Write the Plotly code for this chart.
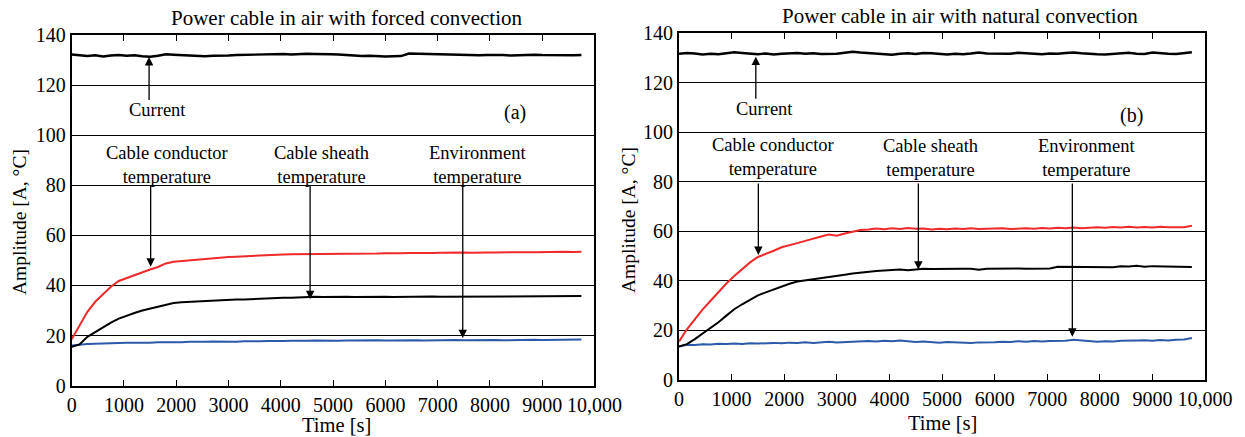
import plotly.graph_objects as go

# ---------------- data ----------------
time_s = list(range(0, 9751, 150))  # sampling instants (66)

# (a) forced convection
cur_a = [132.2, 132.0, 131.6, 131.9, 131.4, 131.8, 132.0, 131.7, 131.9, 131.5,
         131.3, 131.7, 132.3, 132.1, 131.9, 131.8, 131.6, 131.5, 131.7, 131.6,
         131.8, 132.0, 132.1, 131.9, 132.2, 132.1, 132.3, 132.4, 132.2, 132.4,
         132.5, 132.4, 132.5, 132.3, 132.2, 131.9, 131.8, 131.6, 131.7, 131.5,
         131.4, 131.5, 131.6, 132.6, 132.5, 132.4, 132.5, 132.3, 132.2, 132.1,
         132.2, 132.0, 131.9, 132.0, 132.1, 132.0, 131.8, 132.0, 131.9, 132.1,
         132.0, 131.9, 132.1, 132.0, 131.9, 132.0]
cond_a = [18.5, 24.0, 29.5, 33.5, 36.5, 39.5, 41.8, 43.0, 44.3, 45.5,
          46.4, 47.4, 48.8, 49.5, 49.8, 50.2, 50.4, 50.7, 50.9, 51.2,
          51.4, 51.5, 51.7, 51.9, 52.0, 52.1, 52.3, 52.4, 52.5, 52.5,
          52.6, 52.7, 52.7, 52.6, 52.7, 52.6, 52.7, 52.8, 52.7, 52.8,
          52.9, 52.8, 52.9, 53.0, 52.9, 53.1, 53.0, 53.1, 53.2, 53.1,
          53.2, 53.1, 53.3, 53.2, 53.2, 53.3, 53.2, 53.4, 53.3, 53.3,
          53.4, 53.3, 53.4, 53.5, 53.4, 53.5]
sheath_a = [15.5, 16.5, 19.5, 21.5, 23.3, 25.2, 26.8, 28.0, 29.0, 30.0,
            30.8, 31.5, 32.2, 33.0, 33.3, 33.5, 33.6, 33.8, 33.9, 34.1,
            34.2, 34.4, 34.4, 34.6, 34.7, 34.8, 35.0, 35.1, 35.1, 35.3,
            35.4, 35.5, 35.4, 35.5, 35.4, 35.5, 35.4, 35.5, 35.4, 35.5,
            35.5, 35.4, 35.5, 35.5, 35.4, 35.5, 35.6, 35.5, 35.5, 35.6,
            35.5, 35.7, 35.8, 35.7, 35.7, 35.8, 35.7, 35.8, 35.7, 35.8,
            35.8, 35.7, 35.8, 35.8, 35.7, 35.8]
env_a = [16.0, 16.4, 16.6, 16.7, 16.9, 16.8, 17.0, 17.1, 17.0, 17.2,
         17.1, 17.3, 17.2, 17.4, 17.3, 17.5, 17.4, 17.5, 17.6, 17.5,
         17.6, 17.5, 17.7, 17.6, 17.7, 17.8, 17.7, 17.8, 17.9, 17.8,
         17.9, 18.0, 17.9, 18.0, 17.9, 18.0, 18.1, 18.0, 18.0, 18.1,
         18.0, 18.1, 18.0, 18.1, 18.1, 18.0, 18.1, 18.2, 18.1, 18.2,
         18.1, 18.2, 18.1, 18.2, 18.2, 18.1, 18.2, 18.3, 18.2, 18.3,
         18.2, 18.3, 18.2, 18.3, 18.3, 18.4]

# (b) natural convection
cur_b = [131.8, 132.1, 131.9, 131.5, 131.8, 131.6, 132.0, 132.4, 132.1, 131.7,
         131.6, 131.9, 131.5, 131.8, 132.0, 132.1, 131.8, 132.0, 131.7, 131.6,
         131.8, 132.2, 132.6, 132.3, 132.1, 131.8, 131.6, 131.4, 131.8, 132.0,
         131.7, 132.1, 132.0, 131.7, 131.5, 131.8, 131.6, 131.9, 132.3, 131.9,
         131.8, 131.6, 131.8, 132.2, 132.0, 131.8, 131.6, 131.9, 131.8, 132.1,
         132.3, 132.0, 131.7, 131.6, 131.5, 131.8, 132.0, 132.2, 131.8, 131.7,
         132.3, 131.9, 131.8, 131.7, 132.1, 132.4]
cond_b = [15.5, 20.5, 24.5, 28.5, 32.0, 35.5, 39.0, 42.0, 44.8, 47.5,
          49.7, 50.8, 52.2, 53.6, 54.6, 55.3, 56.2, 57.2, 58.0, 58.8,
          58.3, 59.2, 59.8, 60.6, 60.8, 61.2, 60.9, 61.3, 61.0, 61.4,
          61.1, 61.2, 60.8, 61.1, 60.9, 61.2, 61.0, 61.3, 61.0, 61.1,
          61.0, 61.3, 61.0, 61.2, 61.3, 61.1, 61.4, 61.2, 61.5, 61.3,
          61.6, 61.3, 61.5, 61.7, 61.5, 61.8, 61.6, 61.9, 61.6, 61.8,
          61.6, 61.9, 61.7, 61.8, 61.7, 62.3]
sheath_b = [13.5, 14.5, 16.5, 18.8, 21.0, 23.3, 26.0, 28.6, 30.6, 32.5,
            34.2, 35.4, 36.6, 37.8, 38.9, 39.8, 40.2, 40.6, 41.1, 41.7,
            42.1, 42.5, 43.0, 43.4, 43.7, 44.0, 44.2, 44.5, 44.6, 44.3,
            44.7, 44.9, 44.8, 44.9, 44.9, 44.8, 44.9, 44.9, 44.5, 44.9,
            45.0, 44.9, 45.0, 45.0, 44.9, 45.0, 45.0, 45.0, 45.7, 45.7,
            45.8, 45.7, 45.8, 45.8, 45.7, 45.5, 45.9, 45.8, 46.1, 45.7,
            46.0, 45.9, 45.8, 45.6, 45.6, 45.6]
env_b = [13.5, 14.2, 14.1, 14.4, 14.3, 14.6, 14.5, 14.7, 14.5, 14.8,
         14.7, 14.9, 15.0, 14.8, 15.1, 15.0, 15.2, 15.0, 15.3, 15.5,
         15.2, 15.4, 15.3, 15.6, 15.8, 15.6, 15.9, 15.7, 16.0, 15.7,
         15.4, 15.6, 15.3, 15.1, 15.4, 15.2, 15.3, 15.0, 15.2, 15.1,
         15.3, 15.5, 15.4, 15.7, 15.5, 15.8, 15.6, 15.8, 15.7, 15.9,
         16.3, 16.0, 15.6, 15.5, 15.7, 15.6, 15.9, 15.8, 16.0, 16.1,
         15.9, 16.2, 16.0, 16.3, 16.4, 17.0]

x_tickvals = [0, 1000, 2000, 3000, 4000, 5000, 6000, 7000, 8000, 9000, 10000]
x_ticktext = ["0", "1000", "2000", "3000", "4000", "5000", "6000", "7000",
              "8000", "9000", "10,000"]
y_tickvals = [0, 20, 40, 60, 80, 100, 120, 140]

titles = ["Power cable in air with forced convection",
          "Power cable in air with natural convection"]
panel_tags = ["(a)", "(b)"]

# ---------------- figure ----------------
FONT = "Liberation Serif"
RED = "#ee2a2a"
BLUE = "#2a5aa8"
BLACK = "#000000"

fig = go.Figure()

series = [
    ("x", "y", cur_a, cond_a, sheath_a, env_a),
    ("x2", "y2", cur_b, cond_b, sheath_b, env_b),
]
for xa, ya, cur, cond, sh, env in series:
    fig.add_trace(go.Scatter(x=time_s, y=env, xaxis=xa, yaxis=ya, mode="lines",
                             line=dict(color=BLUE, width=2), showlegend=False))
    fig.add_trace(go.Scatter(x=time_s, y=sh, xaxis=xa, yaxis=ya, mode="lines",
                             line=dict(color=BLACK, width=2), showlegend=False))
    fig.add_trace(go.Scatter(x=time_s, y=cond, xaxis=xa, yaxis=ya, mode="lines",
                             line=dict(color=RED, width=2), showlegend=False))
    fig.add_trace(go.Scatter(x=time_s, y=cur, xaxis=xa, yaxis=ya, mode="lines",
                             line=dict(color=BLACK, width=2.4), showlegend=False))

xcommon = dict(range=[0, 10000], tickvals=x_tickvals, ticktext=x_ticktext,
               ticks="inside", ticklen=6, tickwidth=1.3, tickcolor=BLACK,
               showline=True, linewidth=2, linecolor=BLACK, mirror="ticks",
               showgrid=False, zeroline=False, automargin=False,
               tickfont=dict(family=FONT, size=20, color=BLACK))
ycommon = dict(range=[0, 140], tickvals=y_tickvals, ticks="",
               showline=True, linewidth=2, linecolor=BLACK, mirror=True,
               showgrid=True, gridcolor=BLACK, gridwidth=1.2, zeroline=False,
               automargin=False,
               tickfont=dict(family=FONT, size=20, color=BLACK))

fig.update_layout(
    width=1245, height=437, autosize=False,
    margin=dict(l=0, r=0, t=0, b=0, pad=0, autoexpand=False),
    font=dict(family=FONT, color=BLACK),
    paper_bgcolor="white", plot_bgcolor="white",
    xaxis=dict(domain=[0.0576, 0.4775], anchor="y", **xcommon),
    yaxis=dict(domain=[0.1174, 0.9199], anchor="x", **ycommon),
    xaxis2=dict(domain=[0.5454, 0.9679], anchor="y2", **xcommon),
    yaxis2=dict(domain=[0.1304, 0.9236], anchor="x2", **ycommon),
)

anns = []
def txt(text, x, y, xr, yr, size=18.5):
    anns.append(dict(text=text, x=x, y=y, xref=xr, yref=yr, showarrow=False,
                     xanchor="center", yanchor="middle", align="center",
                     font=dict(family=FONT, size=size, color=BLACK)))

def arrow(xh, yh, yt, xr, yr):
    anns.append(dict(text="", x=xh, y=yh, ax=xh, ay=yt, xref=xr, yref=yr,
                     axref=xr, ayref=yr, showarrow=True, arrowhead=2,
                     arrowsize=1.3, arrowwidth=1.3, arrowcolor=BLACK,
                     standoff=0, startstandoff=0))

# panel (a)
txt("Current", 1642, 110, "x", "y")
txt("Cable conductor<br>temperature", 1820, 88.3, "x", "y")
txt("Cable sheath<br>temperature", 4780, 88.2, "x", "y")
txt("Environment<br>temperature", 7760, 88.1, "x", "y")
txt(panel_tags[0], 8483, 109, "x", "y", size=20)
arrow(1480, 131.2, 113.5, "x", "y")
arrow(1510, 47.5, 80.5, "x", "y")
arrow(4560, 34.5, 80.5, "x", "y")
arrow(7480, 19.0, 80.5, "x", "y")

# panel (b)
txt("Current", 1625, 109.5, "x2", "y2")
txt("Cable conductor<br>temperature", 1790, 90.1, "x2", "y2")
txt("Cable sheath<br>temperature", 4776, 89.8, "x2", "y2")
txt("Environment<br>temperature", 7740, 89.5, "x2", "y2")
txt(panel_tags[1], 8603, 107, "x2", "y2", size=20)
arrow(1460, 130.6, 113, "x2", "y2")
arrow(1508, 50.5, 80, "x2", "y2")
arrow(4550, 44.6, 80, "x2", "y2")
arrow(7477, 17.5, 80, "x2", "y2")

# titles and axis titles (paper coordinates from pixels)
def ptxt(text, px, py, angle=0, size=20):
    anns.append(dict(text=text, x=px / 1245, y=1 - py / 437, xref="paper",
                     yref="paper", showarrow=False, xanchor="center",
                     yanchor="middle", textangle=angle,
                     font=dict(family=FONT, size=size, color=BLACK)))

ptxt(titles[0], 347, 18, size=21)
ptxt(titles[1], 960, 16, size=21)
ptxt("Time [s]", 336, 425, size=20.5)
ptxt("Time [s]", 942, 423, size=20.5)
ptxt("Amplitude [A, °C]", 19, 222, angle=-90, size=19.5)
ptxt("Amplitude [A, °C]", 628, 220, angle=-90, size=19.5)

fig.update_layout(annotations=anns)
fig.write_html("out.html",
               config={"displayModeBar": False},
               post_script="document.body.style.margin='0';"
                           "document.body.style.padding='0';")
